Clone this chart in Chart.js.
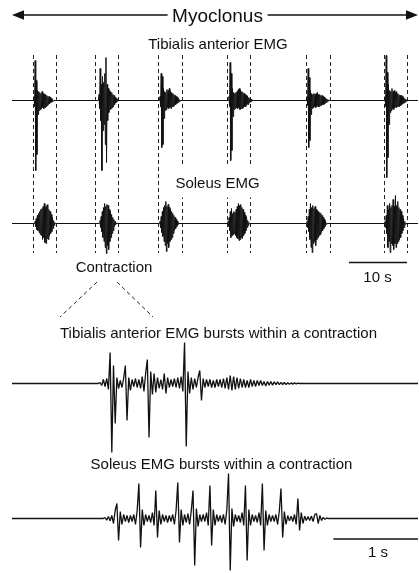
<!DOCTYPE html>
<html>
<head>
<meta charset="utf-8">
<script src="https://cdn.jsdelivr.net/npm/chart.js@4.4.1/dist/chart.umd.min.js"></script>
<style>
  body { margin: 0; background: #fff; }
  #wrap { position: relative; width: 419px; height: 573px; overflow: hidden; }
  #fig { position: absolute; left: 0; top: 0; }
  .lbl {
    position: absolute;
    transform: translate(-50%, -50%);
    font: 15px "Liberation Sans", Arial, sans-serif;
    line-height: 1;
    white-space: nowrap;
    color: #111;
  }
</style>
</head>
<body>
<div id="wrap">
  <canvas id="fig" width="419" height="573"></canvas>
  <div class="lbl" style="left:217.5px;top:15px;font-size:19px;background:#fff;padding:0 5px">Myoclonus</div>
  <div class="lbl" style="left:218px;top:43px">Tibialis anterior EMG</div>
  <div class="lbl" style="left:217.5px;top:182px;background:#fff;padding:8px 0">Soleus EMG</div>
  <div class="lbl" style="left:114px;top:266px">Contraction</div>
  <div class="lbl" style="left:377.5px;top:276px">10 s</div>
  <div class="lbl" style="left:218.5px;top:332px">Tibialis anterior EMG bursts within a contraction</div>
  <div class="lbl" style="left:221.5px;top:463px">Soleus EMG bursts within a contraction</div>
  <div class="lbl" style="left:378px;top:551px">1 s</div>
</div>
<script>
const topStep = 0.1;
const zoomStep = 0.02;
const topDuration = 70;   // s shown in the upper record
const zoomDuration = 4.8; // s shown in the expanded contraction

// contraction windows (dashed lines), s
const windowStarts = [3.62, 14.31, 25.17, 37.07, 50.69, 64.14];
const windowEnds = [7.59, 18.28, 29.31, 41.03, 54.83, 68.10];

// upper record, tibialis anterior (mV)
const taOnsets = [3.79, 15.0, 25.52, 37.41, 50.86, 64.31];
const taBursts = [
  [0.2,-0.3, 2.0,-3.5, 1.0,-2.7, 0.5,-0.7, 0.45,-0.5, 0.4,-0.45, 0.35,-0.4, 0.45,-0.35, 0.35,-0.4, 0.3,-0.35, 0.3,-0.3, 0.25,-0.25, 0.2,-0.2, 0.2,-0.15, 0.15,-0.1, 0.1,-0.08, 0.05,-0.03],
  [0.3,-0.4, 1.6,-1.0, 0.8,-3.5, 1.2,-1.5, 0.9,-1.2, 1.35,-2.2, 2.15,-3.1, 0.8,-1.0, 0.6,-0.6, 0.5,-0.45, 0.45,-0.4, 0.4,-0.35, 0.3,-0.3, 0.25,-0.2, 0.15,-0.12, 0.1,-0.05, 0.04,-0.02],
  [0.2,-0.3, 1.35,-2.35, 1.2,-2.2, 0.6,-0.9, 0.45,-0.5, 0.4,-0.45, 0.55,-0.35, 0.5,-0.4, 0.6,-0.35, 0.45,-0.4, 0.4,-0.3, 0.35,-0.3, 0.3,-0.25, 0.25,-0.2, 0.2,-0.15, 0.15,-0.1, 0.08,-0.06, 0.04,-0.02],
  [0.2,-0.3, 1.9,-3.0, 1.35,-2.5, 0.6,-0.8, 0.4,-0.45, 0.35,-0.4, 0.4,-0.35, 0.45,-0.4, 0.55,-0.35, 0.6,-0.45, 0.5,-0.4, 0.45,-0.4, 0.4,-0.35, 0.35,-0.3, 0.3,-0.3, 0.25,-0.2, 0.2,-0.2, 0.15,-0.12, 0.1,-0.08, 0.06,-0.04, 0.03,-0.02],
  [0.2,-0.25, 1.6,-2.35, 1.15,-2.0, 0.5,-0.7, 0.35,-0.4, 0.3,-0.35, 0.35,-0.3, 0.3,-0.35, 0.35,-0.3, 0.4,-0.3, 0.3,-0.3, 0.3,-0.25, 0.25,-0.25, 0.25,-0.2, 0.2,-0.2, 0.15,-0.15, 0.12,-0.1, 0.08,-0.06, 0.05,-0.03, 0.02,-0.01],
  [0.2,-0.3, 2.25,-3.85, 1.4,-2.85, 0.8,-1.2, 0.5,-0.6, 0.45,-0.5, 0.6,-0.4, 0.45,-0.45, 0.5,-0.35, 0.4,-0.35, 0.45,-0.3, 0.35,-0.3, 0.3,-0.3, 0.25,-0.25, 0.25,-0.2, 0.2,-0.15, 0.15,-0.12, 0.1,-0.08, 0.06,-0.04, 0.03,-0.02]
];

// upper record, soleus (mV)
const solOnsets = [3.97, 15.17, 25.52, 37.24, 50.86, 64.31];
const solBursts = [
  [0.1,-0.15, 0.25,-0.3, 0.4,-0.35, 0.5,-0.45, 0.6,-0.55, 0.7,-0.6, 0.75,-0.8, 0.85,-0.7, 1.0,-0.95, 0.8,-1.0, 0.9,-0.75, 0.95,-0.8, 0.7,-0.6, 0.6,-0.5, 0.45,-0.4, 0.3,-0.25, 0.15,-0.1, 0.05],
  [0.15,-0.2, 0.35,-0.4, 0.6,-0.7, 0.8,-0.9, 1.0,-1.2, 0.85,-1.5, 0.95,-1.1, 0.9,-1.3, 0.7,-0.9, 0.6,-0.7, 0.45,-0.5, 0.3,-0.35, 0.2,-0.15, 0.1,-0.05],
  [0.1,-0.2, 0.35,-0.45, 0.6,-0.65, 0.8,-0.9, 0.9,-1.1, 1.1,-1.4, 0.85,-1.0, 0.95,-1.2, 0.8,-0.9, 0.7,-0.8, 0.6,-0.7, 0.5,-0.5, 0.4,-0.35, 0.3,-0.25, 0.2,-0.15, 0.1,-0.05],
  [0.1,-0.15, 0.3,-0.35, 0.6,-0.7, 0.75,-0.6, 0.5,-0.55, 0.6,-0.5, 0.55,-0.6, 0.7,-0.7, 0.85,-0.75, 1.0,-0.85, 0.9,-0.8, 0.95,-0.7, 0.8,-0.75, 0.7,-0.6, 0.55,-0.5, 0.4,-0.35, 0.3,-0.2, 0.15,-0.1, 0.05],
  [0.1,-0.2, 0.35,-0.4, 0.7,-0.8, 1.0,-1.2, 0.8,-1.45, 0.9,-1.0, 0.75,-0.9, 0.85,-1.1, 0.7,-0.8, 0.65,-0.7, 0.6,-0.6, 0.55,-0.55, 0.5,-0.45, 0.4,-0.35, 0.3,-0.25, 0.2,-0.15, 0.1,-0.05],
  [0.1,-0.2, 0.4,-0.5, 0.9,-1.2, 0.7,-0.9, 1.0,-1.45, 0.8,-1.0, 0.9,-1.1, 1.2,-1.3, 0.85,-1.0, 1.4,-1.2, 0.9,-1.0, 1.1,-0.9, 0.8,-0.8, 0.7,-0.7, 0.6,-0.5, 0.4,-0.35, 0.25,-0.2, 0.1,-0.05]
];

// expanded contraction, tibialis anterior (mV)
const zoomTaOnset = 1.04;
const zoomTa = [
  0.05,-0.1, 0.2,-0.15, 0.25,-0.3, 1.55,-3.45, 0.9,-2.0, 0.3,-0.25, 0.15,-0.2, 0.25, 0.9,
  -1.85, 0.3,-0.35, 0.2,-0.15, 0.25,-0.2, 0.2,-0.25, 0.35,-0.4, 0.5, 1.2,-2.7, 0.6,-0.55,
  0.5,-0.45, 0.3,-0.25, 0.2,-0.3, 0.5,-0.5, 0.3,-0.2, 0.2,-0.15, 0.25,-0.2, 0.3,-0.25,
  0.35,-0.4, 2.05,-3.15, 0.6,-0.5, 0.3,-0.3, 0.25,-0.2, 0.3, 0.65,-0.85, 0.25,-0.2, 0.2,
  -0.15, 0.2,-0.2, 0.15,-0.2, 0.2,-0.15, 0.2,-0.2, 0.25,-0.25, 0.3,-0.3, 0.4,-0.35, 0.35,
  -0.3, 0.3,-0.25, 0.25,-0.2, 0.2,-0.2, 0.15,-0.2, 0.2,-0.15, 0.15,-0.15, 0.15,-0.1, 0.15,
  -0.1, 0.1,-0.12, 0.1,-0.08, 0.1,-0.08, 0.08,-0.06, 0.08,-0.06, 0.06,-0.05, 0.05,-0.05,
  0.04,-0.04, 0.03,-0.03, 0.03,-0.02, 0.02, 0
];

// expanded contraction, soleus (mV)
const zoomSolOnset = 1.10;
const zoomSol = [
  0.05,-0.08, 0.1,-0.12, 0.15,-0.25, 0.4, 0.75,-1.1, 0.35,-0.3, 0.2,-0.15, 0.15,-0.2, 0.15,
  -0.15, 0.2,-0.3, 0.4, 1.75,-1.45, 0.45,-0.35, 0.2,-0.15, 0.15,-0.2, 0.3,-0.35, 1.4,-0.95,
  0.4,-0.3, 0.2,-0.15, 0.15,-0.2, 0.15,-0.15, 0.2,-0.3, 0.4, 1.8,-1.2, 0.45,-0.35, 0.2,
  -0.2, 0.25,-0.3, 0.4, 1.4,-2.35, 0.5,-0.4, 0.2,-0.15, 0.2,-0.15, 0.3,-0.35, 1.65,-1.35,
  0.45,-0.35, 0.2,-0.15, 0.15,-0.2, 0.2,-0.3, 0.45, 2.25,-2.6, 0.5,-0.4, 0.2,-0.15, 0.15,
  -0.2, 0.3,-0.35, 1.65,-2.1, 0.45,-0.35, 0.2,-0.15, 0.15,-0.2, 0.3,-0.35, 1.75,-1.6, 0.4,
  -0.35, 0.2,-0.15, 0.15,-0.15, 0.2,-0.3, 0.35, 1.5,-0.95, 0.35,-0.3, 0.15,-0.12, 0.12,
  -0.15, 0.2,-0.3, 1.0,-0.6, 0.3,-0.25, 0.12,-0.1, 0.1,-0.1, 0.12,-0.15, 0.2, 0.25,-0.25,
  0.15,-0.1, 0.06,-0.04, 0.02
];

// scale bars (s)
const topBarLength = 10, topBarEnd = 68.1;
const zoomBarLength = 1, zoomBarEnd = 4.8;

// ---- layout (pixels) ----
const H = 573;
const PX_PER_MV = 20;
const baselines = { yTA: 100.5, ySol: 223.5, yTAz: 383.5, ySolz: 518.5 };
const WIN_TOP = 55, WIN_BOTTOM = 253;
const ARROW_Y = 15;
const TOP_BAR_Y = 262.5, ZOOM_BAR_Y = 539;

function trace(onsets, bursts, step, start, end) {
  const pts = [{ x: start, y: 0 }];
  onsets.forEach((t0, k) => {
    pts.push({ x: t0 - step, y: 0 });
    bursts[k].forEach((v, i) => pts.push({ x: t0 + i * step, y: v }));
    pts.push({ x: t0 + bursts[k].length * step, y: 0 });
  });
  pts.push({ x: end, y: 0 });
  return pts;
}

function band(base) {
  return { type: 'linear', display: false, min: -(H - base) / PX_PER_MV, max: base / PX_PER_MV };
}

function seg(ctx, x1, y1, x2, y2) {
  ctx.beginPath();
  ctx.moveTo(x1, y1);
  ctx.lineTo(x2, y2);
  ctx.stroke();
}

const decor = {
  id: 'decor',
  beforeDatasetsDraw(chart) {
    const ctx = chart.ctx, xt = chart.scales.xTop;
    ctx.save();
    ctx.strokeStyle = '#222';
    ctx.lineWidth = 1;
    ctx.setLineDash([4, 3]);
    windowStarts.concat(windowEnds).forEach(t => {
      const x = Math.round(xt.getPixelForValue(t)) + 0.5;
      seg(ctx, x, WIN_TOP, x, WIN_BOTTOM);
    });
    // contraction 2 expanded below
    seg(ctx, xt.getPixelForValue(windowStarts[1]) + 2, 282, 60, 317);
    seg(ctx, xt.getPixelForValue(windowEnds[1]) - 1, 282, 153, 317);
    ctx.restore();
  },
  afterDatasetsDraw(chart) {
    const ctx = chart.ctx, xt = chart.scales.xTop, xz = chart.scales.xZoom;
    ctx.save();
    ctx.strokeStyle = '#111';
    ctx.fillStyle = '#111';
    // Myoclonus arrow over the whole record
    const a = xt.getPixelForValue(0), b = xt.getPixelForValue(topDuration);
    ctx.lineWidth = 1.3;
    seg(ctx, a + 6, ARROW_Y, b - 6, ARROW_Y);
    [[a, 1], [b, -1]].forEach(([x, d]) => {
      ctx.beginPath();
      ctx.moveTo(x, ARROW_Y);
      ctx.lineTo(x + d * 12, ARROW_Y - 4.8);
      ctx.lineTo(x + d * 12, ARROW_Y + 4.8);
      ctx.closePath();
      ctx.fill();
    });
    // scale bars
    ctx.lineWidth = 1.6;
    seg(ctx, xt.getPixelForValue(topBarEnd - topBarLength), TOP_BAR_Y, xt.getPixelForValue(topBarEnd), TOP_BAR_Y);
    seg(ctx, xz.getPixelForValue(zoomBarEnd - zoomBarLength), ZOOM_BAR_Y, xz.getPixelForValue(zoomBarEnd), ZOOM_BAR_Y);
    ctx.restore();
  }
};

const lineStyle = { borderColor: '#111', borderWidth: 1, pointRadius: 0, tension: 0, borderJoinStyle: 'bevel', fill: false };
const zoomStyle = { ...lineStyle, borderWidth: 1.3 };

new Chart(document.getElementById('fig'), {
  type: 'line',
  data: {
    datasets: [
      { ...lineStyle, label: 'TA', xAxisID: 'xTop', yAxisID: 'yTA', data: trace(taOnsets, taBursts, topStep, 0, topDuration) },
      { ...lineStyle, label: 'Soleus', xAxisID: 'xTop', yAxisID: 'ySol', data: trace(solOnsets, solBursts, topStep, 0, topDuration) },
      { ...zoomStyle, label: 'TA bursts', xAxisID: 'xZoom', yAxisID: 'yTAz', data: trace([zoomTaOnset], [zoomTa], zoomStep, 0, zoomDuration) },
      { ...zoomStyle, label: 'Soleus bursts', xAxisID: 'xZoom', yAxisID: 'ySolz', data: trace([zoomSolOnset], [zoomSol], zoomStep, 0, zoomDuration) }
    ]
  },
  options: {
    responsive: false,
    animation: false,
    devicePixelRatio: 1,
    events: [],
    parsing: false,
    layout: { padding: { left: 12, right: 1, top: 0, bottom: 0 } },
    plugins: { legend: { display: false }, tooltip: { enabled: false } },
    scales: {
      xTop: { type: 'linear', display: false, min: 0, max: topDuration },
      xZoom: { type: 'linear', display: false, min: 0, max: zoomDuration },
      yTA: band(baselines.yTA),
      ySol: band(baselines.ySol),
      yTAz: band(baselines.yTAz),
      ySolz: band(baselines.ySolz)
    }
  },
  plugins: [decor]
});
</script>
</body>
</html>
